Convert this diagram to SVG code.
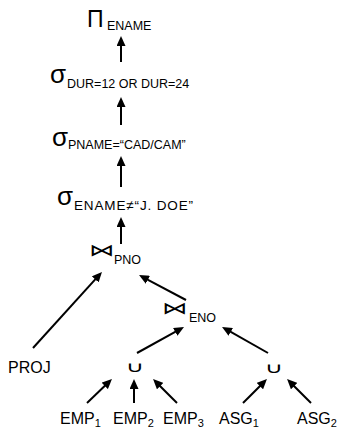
<svg xmlns="http://www.w3.org/2000/svg" width="340" height="430" viewBox="0 0 340 430">
  <style>
    text { font-family: "Liberation Sans", Arial, sans-serif; fill: #000; }
    .op { font-size: 23px; }
    .sig { font-size: 26px; }
    .sub { font-size: 12.5px; }
    .sym { font-family: "DejaVu Sans", sans-serif; }
    .tie { font-size: 17px; }
    .cup { font-size: 14.5px; }
    .rel { font-size: 16px; }
    .idx { font-size: 11px; }
    .edge { stroke: #000; stroke-width: 2; fill: none; marker-end: url(#head); }
  </style>
  <defs>
    <marker id="head" markerUnits="userSpaceOnUse" markerWidth="10" markerHeight="9" refX="2" refY="4.5" orient="auto">
      <path d="M0,0 L10,4.5 L0,9 z" fill="#000"/>
    </marker>
  </defs>

  <!-- operator tree nodes -->
  <g id="project">
    <text class="op" x="87" y="27">Π</text>
    <text class="sub" x="107" y="30">ENAME</text>
  </g>
  <g id="select-dur">
    <text class="sig" x="50" y="83">σ</text>
    <text class="sub" x="67" y="88">DUR=12 OR DUR=24</text>
  </g>
  <g id="select-pname">
    <text class="sig" x="52" y="146">σ</text>
    <text class="sub" x="68" y="149">PNAME=“CAD/CAM”</text>
  </g>
  <g id="select-ename">
    <text class="sig" x="57" y="205">σ</text>
    <text class="sub" x="74" y="210" style="font-size:13.5px" textLength="119">ENAME≠“J. DOE”</text>
  </g>
  <g id="join-pno">
    <text class="sym tie" transform="translate(89,256) scale(1.5,1)">⋈</text>
    <text class="sub" x="114" y="264">PNO</text>
  </g>
  <g id="join-eno">
    <text class="sym tie" transform="translate(162,314) scale(1.5,1)">⋈</text>
    <text class="sub" x="189" y="322">ENO</text>
  </g>
  <g id="proj">
    <text class="rel" x="8" y="373">PROJ</text>
  </g>
  <g id="union-emp">
    <text class="sym cup" transform="translate(125.7,371.5) scale(1.7,1)">∪</text>
  </g>
  <g id="union-asg">
    <text class="sym cup" transform="translate(264.7,373) scale(1.7,1)">∪</text>
  </g>
  <g id="emp1"><text class="rel" x="60" y="424">EMP<tspan class="idx" dy="3">1</tspan></text></g>
  <g id="emp2"><text class="rel" x="113" y="424">EMP<tspan class="idx" dy="3">2</tspan></text></g>
  <g id="emp3"><text class="rel" x="163" y="424">EMP<tspan class="idx" dy="3">3</tspan></text></g>
  <g id="asg1"><text class="rel" x="219" y="424">ASG<tspan class="idx" dy="3">1</tspan></text></g>
  <g id="asg2"><text class="rel" x="297" y="424">ASG<tspan class="idx" dy="3">2</tspan></text></g>

  <!-- connectors (child to parent) -->
  <g id="connectors">
    <line class="edge" x1="121" y1="62" x2="121" y2="44"/>
    <line class="edge" x1="121" y1="125" x2="121" y2="105"/>
    <line class="edge" x1="121" y1="187" x2="121" y2="164"/>
    <line class="edge" x1="121" y1="244" x2="121" y2="225"/>
    <line class="edge" x1="33" y1="348" x2="96.6" y2="277.9"/>
    <line class="edge" x1="186" y1="300" x2="146.1" y2="278.8"/>
    <line class="edge" x1="137" y1="353" x2="177" y2="330.9"/>
    <line class="edge" x1="268" y1="353" x2="229" y2="330.9"/>
    <line class="edge" x1="87" y1="403" x2="106.2" y2="384.5"/>
    <line class="edge" x1="134" y1="403" x2="134" y2="387"/>
    <line class="edge" x1="177" y1="403" x2="158.7" y2="384.7"/>
    <line class="edge" x1="243" y1="403" x2="261.3" y2="384.7"/>
    <line class="edge" x1="311" y1="403" x2="292.7" y2="384.7"/>
  </g>
</svg>
